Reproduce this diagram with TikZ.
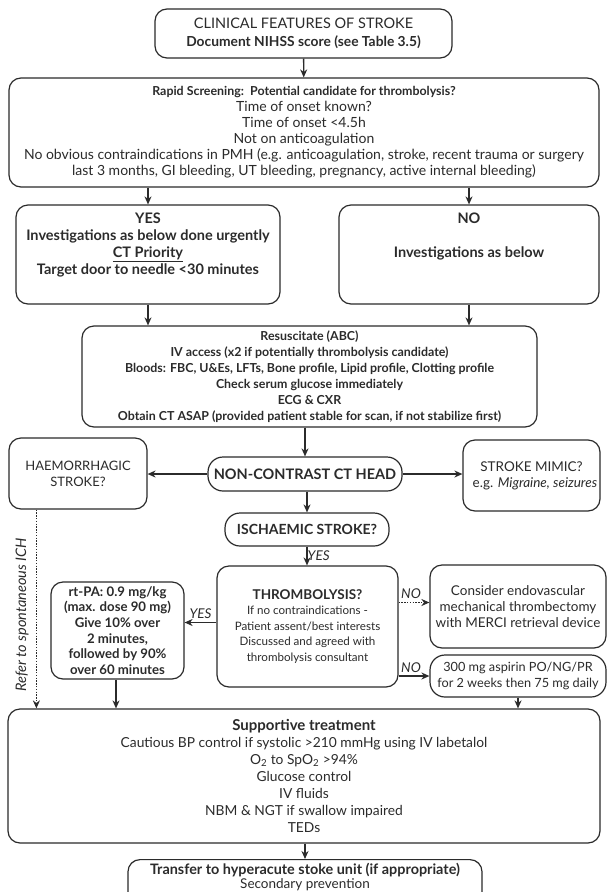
\documentclass[tikz,border=0pt]{standalone}
\usepackage{fontspec}
\setmainfont{Lato}
\usetikzlibrary{arrows.meta}
\definecolor{ink}{HTML}{2B2B2B}
\newcommand{\fs}[2]{\fontsize{#1}{#2}\selectfont}
\begin{document}
\begin{tikzpicture}[x=1pt,y=-1pt,
  box/.style={draw=ink, line width=1.2pt, rounded corners=12pt, align=center, inner sep=0pt, text=ink, font=\fs{12}{15.5}},
  pill/.style={box, rounded corners=15pt},
  arr/.style={-{Stealth[length=8pt,width=7pt]}, line width=1.3pt, draw=ink},
  darr/.style={arr, dash pattern=on 1.4pt off 1.4pt},
  lab/.style={font=\fs{13.5}{15}\itshape, text=ink, inner sep=1pt}]
\useasboundingbox (0,0) rectangle (607,892);
\clip (0,0) rectangle (607,892);
\fill[white] (0,0) rectangle (607,892);

\node[box, minimum width=297pt, minimum height=49pt, font=\fs{14.5}{18}] (c1) at (303.5,33.5)
  {CLINICAL FEATURES OF STROKE\\ {\fs{13.8}{16}\bfseries Document NIHSS score (see Table 3.5)}};
\node[box, minimum width=590pt, minimum height=109pt, font=\fs{14}{16}] (c2) at (304,132.5)
  {{\fs{12.4}{16}\bfseries Rapid Screening:\ \ Potential candidate for thrombolysis?}\\
   Time of onset known?\\ Time of onset <4.5h\\ Not on anticoagulation\\
   No obvious contraindications in PMH (e.g. anticoagulation, stroke, recent trauma or surgery\\
   last 3 months, GI bleeding, UT bleeding, pregnancy, active internal bleeding)};
\node[box, minimum width=264pt, minimum height=99pt, font=\fs{14.5}{17}\bfseries] (yesb) at (148,254.5)
  {YES\\ Investigations as below done urgently\\ \underline{CT Priority}\\ Target door to needle <30 minutes\\[4pt]};
\node[box, minimum width=260pt, minimum height=99pt, font=\fs{14.5}{17}\bfseries] (nob) at (469,254.5)
  {NO\\ \strut\\ Investigations as below\\ \strut\\[4pt]};
\node[box, minimum width=455pt, minimum height=101pt, font=\fs{12.4}{16}\bfseries] (res) at (309.5,376.5)
  {Resuscitate (ABC)\\ IV access (x2 if potentially thrombolysis candidate)\\
   Bloods: FBC, U\&Es, LFTs, Bone profile, Lipid profile, Clotting profile\\
   Check serum glucose immediately\\ ECG \& CXR\\
   Obtain CT ASAP (provided patient stable for scan, if not stabilize first)};
\node[box, minimum width=138pt, minimum height=71pt, font=\fs{13}{16}] (haem) at (78,473.5)
  {HAEMORRHAGIC\\ STROKE?};
\node[pill, minimum width=194pt, minimum height=34pt, font=\fs{14.5}{16}\bfseries] (ct) at (305,474)
  {NON-CONTRAST CT HEAD};
\node[box, minimum width=137pt, minimum height=71pt, font=\fs{13.5}{16}] (mim) at (531.5,475.5)
  {STROKE MIMIC?\\ \ \ e.g. \textit{Migraine, seizures}};
\node[pill, minimum width=164pt, minimum height=33pt, font=\fs{14}{16}\bfseries] (isc) at (307,529.5)
  {ISCHAEMIC STROKE?};
\node[box, minimum width=181pt, minimum height=121pt, font=\fs{11.6}{15.5}] (thr) at (307.5,626.5)
  {{\fs{13.5}{16}\bfseries THROMBOLYSIS?}\\ If no contraindications -\\
   Patient assent/best interests\\ Discussed and agreed with\\ thrombolysis consultant};
\node[box, minimum width=133pt, minimum height=97pt, font=\fs{13.2}{15.6}\bfseries] (rtpa) at (117.5,630.5)
  {rt-PA: 0.9 mg/kg\\ (max. dose 90 mg)\\ Give 10\% over\\ 2 minutes,\\ followed by 90\%\\ over 60 minutes};
\node[box, minimum width=176pt, minimum height=83pt, font=\fs{13.5}{16}] (con) at (518,606.5)
  {Consider endovascular\\ mechanical thrombectomy\\ with MERCI retrieval device};
\node[pill, minimum width=176pt, minimum height=42pt, font=\fs{12.7}{16}] (asp) at (518,676)
  {300 mg aspirin PO/NG/PR\\ for 2 weeks then 75 mg daily};
\node[box, minimum width=592pt, minimum height=134pt, font=\fs{13.8}{17}] (sup) at (304,776)
  {{\fs{15}{17}\bfseries Supportive treatment}\\ Cautious BP control if systolic >210 mmHg using IV labetalol\\
   O\textsubscript{2} to SpO\textsubscript{2} >94\%\\ Glucose control\\ IV fluids\\
   NBM \& NGT if swallow impaired\\ TEDs};
\node[box, minimum width=354pt, minimum height=60pt, anchor=north] (tra) at (305,859) {};
\node[align=center, anchor=north, inner sep=0pt, text=ink, font=\fs{13.5}{14}] (trat) at ([yshift=-4pt]tra.north)
  {{\fs{14.4}{14}\bfseries Transfer to hyperacute stoke unit (if appropriate)}\\ Secondary prevention};

% connectors
\draw[arr] (c1) -- (c2);
\draw[arr] (c2.south -| yesb.north) -- (yesb.north);
\draw[arr] (c2.south -| nob.north) -- (nob.north);
\draw[arr] (yesb.south) -- (res.north -| yesb.south);
\draw[arr] (nob.south) -- (res.north -| nob.south);
\draw[arr] (res.south -| ct.north) -- (ct.north);
\draw[arr] (ct.west) -- (haem.east |- ct.west);
\draw[arr] (ct.east) -- (mim.west |- ct.east);
\draw[arr] (ct.south -| isc.north) -- (isc.north);
\draw[arr] (isc.south) -- (thr.north -| isc.south) node[lab, midway, right, xshift=-1pt] {YES};
\coordinate (ty) at ([yshift=4pt]thr.west);
\draw[arr] (ty) -- (rtpa.east |- ty) node[lab, midway, above, yshift=2pt] {YES};
\coordinate (tn) at ([yshift=4pt]con.west);
\draw[darr] (thr.east |- tn) -- (tn) node[lab, midway, above, yshift=2pt, xshift=-3pt] {NO};
\draw[arr] (thr.east |- asp.west) -- (asp.west) node[lab, midway, above, yshift=2pt, xshift=-3pt] {NO};
\coordinate (hd) at ([xshift=28pt]haem.south west);
\draw[darr] (hd) -- (sup.north -| hd);
\coordinate (rd) at ([xshift=-1.5pt]rtpa.south);
\draw[arr] (rd) -- (sup.north -| rd);
\draw[arr] (asp.south) -- (sup.north -| asp.south);
\draw[arr] (sup.south -| tra.north) -- (tra.north);
\node[lab, rotate=90, font=\fs{14.5}{16}\itshape] (ich) at (22,615) {Refer to spontaneous ICH};
\end{tikzpicture}
\end{document}
